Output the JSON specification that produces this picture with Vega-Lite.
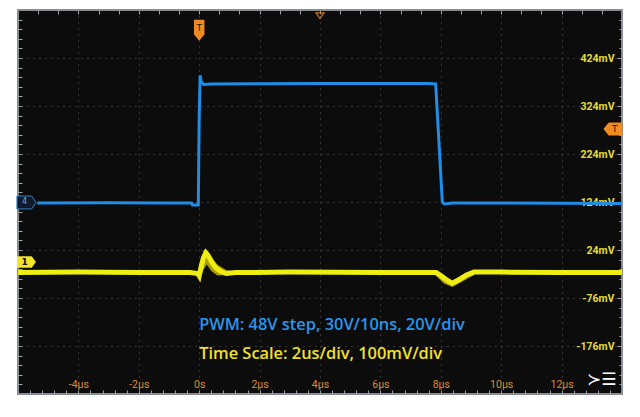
{
  "$schema": "https://vega.github.io/schema/vega-lite/v6.json",
  "width": 604,
  "height": 384,
  "autosize": {"type": "none"},
  "padding": {"left": 18, "top": 10, "right": 18, "bottom": 23},
  "background": "white",
  "config": {
    "view": {"fill": "#0c0c0c", "stroke": "#878d93", "strokeWidth": 2},
    "axis": {"title": null, "domain": false}
  },
  "resolve": {"axis": {"x": "independent", "y": "independent"}},
  "datasets": {
    "blue": [
      {"t": -5.36, "v": 122}, {"t": -3, "v": 122.5}, {"t": -1, "v": 122}, {"t": -0.25, "v": 122},
      {"t": -0.22, "v": 118}, {"t": -0.03, "v": 118}, {"t": 0.0, "v": 300}, {"t": 0.03, "v": 388},
      {"t": 0.07, "v": 374}, {"t": 0.15, "v": 369}, {"t": 0.4, "v": 370}, {"t": 2, "v": 370.5},
      {"t": 4, "v": 371}, {"t": 6, "v": 371}, {"t": 7.6, "v": 371}, {"t": 7.83, "v": 370},
      {"t": 8.05, "v": 124}, {"t": 8.12, "v": 120}, {"t": 8.4, "v": 122}, {"t": 10, "v": 122},
      {"t": 14, "v": 121}
    ],
    "yellow": [
      {"t": -6, "v": -23}, {"t": -4, "v": -22}, {"t": -2, "v": -23}, {"t": -0.3, "v": -23},
      {"t": -0.05, "v": -25}, {"t": 0.0, "v": -30}, {"t": 0.06, "v": -12}, {"t": 0.14, "v": 8},
      {"t": 0.22, "v": 18}, {"t": 0.3, "v": 12}, {"t": 0.42, "v": -2}, {"t": 0.56, "v": -14},
      {"t": 0.72, "v": -21}, {"t": 0.9, "v": -25}, {"t": 1.2, "v": -23}, {"t": 3, "v": -22},
      {"t": 6, "v": -23}, {"t": 7.85, "v": -23}, {"t": 8.0, "v": -29}, {"t": 8.2, "v": -39},
      {"t": 8.38, "v": -45}, {"t": 8.6, "v": -38}, {"t": 8.85, "v": -28}, {"t": 9.1, "v": -22},
      {"t": 10, "v": -22}, {"t": 12, "v": -23}, {"t": 14, "v": -23}
    ],
    "yband": [
      {"seg": "a", "t": -0.05, "lo": -27, "hi": -20}, {"seg": "a", "t": 0.05, "lo": -32, "hi": -4},
      {"seg": "a", "t": 0.15, "lo": -16, "hi": 24}, {"seg": "a", "t": 0.25, "lo": -6, "hi": 22},
      {"seg": "a", "t": 0.4, "lo": -20, "hi": 10}, {"seg": "a", "t": 0.6, "lo": -29, "hi": -6},
      {"seg": "a", "t": 0.9, "lo": -28, "hi": -18}, {"seg": "a", "t": 1.1, "lo": -26, "hi": -20},
      {"seg": "b", "t": 7.8, "lo": -27, "hi": -20}, {"seg": "b", "t": 8.1, "lo": -46, "hi": -28},
      {"seg": "b", "t": 8.38, "lo": -53, "hi": -40}, {"seg": "b", "t": 8.7, "lo": -42, "hi": -28},
      {"seg": "b", "t": 9.1, "lo": -28, "hi": -20}
    ]
  },
  "layer": [
    {
      "data": {"name": "blue"},
      "mark": {"type": "line", "color": "#1f8ee8", "strokeWidth": 3, "strokeJoin": "miter"},
      "encoding": {
        "x": {
          "field": "t", "type": "quantitative",
          "scale": {"domain": [-6, 14], "nice": false, "zero": false},
          "axis": {
            "orient": "bottom", "values": [-4, -2, 0, 2, 4, 6, 8, 10, 12],
            "labelExpr": "datum.value == 0 ? '0s' : datum.value + 'µs'",
            "ticks": false, "labelPadding": -15, "labelColor": "#dc8e2c",
            "labelFont": "Roboto", "labelFontSize": 10.5,
            "grid": true, "gridColor": "#5c5c5c", "gridDash": [1, 5], "gridWidth": 1
          }
        },
        "y": {
          "field": "v", "type": "quantitative",
          "scale": {"domain": [-276, 524], "nice": false, "zero": false},
          "axis": {
            "orient": "right", "values": [424, 324, 224, 124, 24, -76, -176],
            "labelExpr": "datum.value + 'mV'",
            "ticks": true, "tickSize": -5, "tickColor": "#a0a4a8", "tickWidth": 1,
            "labelAlign": "right", "labelPadding": -3, "labelColor": "#e4dc3c",
            "labelFont": "Roboto", "labelFontSize": 10.5, "labelFontWeight": "bold",
            "grid": true, "gridColor": "#5c5c5c", "gridDash": [1, 5], "gridWidth": 1
          }
        }
      }
    },
    {
      "data": {"name": "yband"},
      "mark": {"type": "area", "color": "#b9ab00", "opacity": 0.9},
      "encoding": {
        "x": {"field": "t", "type": "quantitative", "axis": {
          "orient": "top", "labels": false, "grid": false, "tickSize": -4, "tickColor": "#9aa0a6",
          "values": [-5.333,-4.667,-4,-3.333,-2.667,-2,-1.333,-0.667,0,0.667,1.333,2,2.667,3.333,4,4.667,5.333,6,6.667,7.333,8,8.667,9.333,10,10.667,11.333,12,12.667,13.333]}},
        "y": {"field": "lo", "type": "quantitative", "axis": {
          "orient": "left", "labels": false, "grid": false, "tickSize": -4, "tickColor": "#9aa0a6",
          "values": [-256,-236,-216,-196,-176,-156,-136,-116,-96,-76,-56,-36,-16,4,24,44,64,84,104,124,144,164,184,204,224,244,264,284,304,324,344,364,384,404,424,444,464,484,504]}},
        "y2": {"field": "hi"},
        "detail": {"field": "seg"}
      }
    },
    {
      "data": {"name": "yellow"},
      "mark": {"type": "line", "color": "#eeee12", "strokeWidth": 5},
      "encoding": {
        "x": {"field": "t", "type": "quantitative", "axis": {
          "orient": "bottom", "labels": false, "grid": false, "tickSize": -4, "tickColor": "#9aa0a6",
          "values": [-5.6,-5.2,-4.8,-4.4,-4,-3.6,-3.2,-2.8,-2.4,-2,-1.6,-1.2,-0.8,-0.4,0,0.4,0.8,1.2,1.6,2,2.4,2.8,3.2,3.6,4,4.4,4.8,5.2,5.6,6,6.4,6.8,7.2,7.6,8,8.4,8.8,9.2,9.6,10,10.4,10.8,11.2,11.6,12,12.4,12.8,13.2,13.6]}},
        "y": {"field": "v", "type": "quantitative", "axis": {
          "orient": "right", "labels": false, "grid": false, "tickSize": -3, "tickColor": "#9aa0a6",
          "values": [-256,-236,-216,-196,-156,-136,-116,-96,-56,-36,-16,4,44,64,84,104,144,164,184,204,244,264,284,304,344,364,384,404,444,464,484,504]}}
      }
    },
    {
      "data": {"values": [{"t": 0.0, "v": -133, "label": "PWM: 48V step, 30V/10ns, 20V/div"}]},
      "mark": {"type": "text", "align": "left", "baseline": "middle", "color": "#2a95ea", "font": "Open Sans", "fontWeight": 600, "fontSize": 16.4},
      "encoding": {
        "x": {"field": "t", "type": "quantitative", "axis": null},
        "y": {"field": "v", "type": "quantitative", "axis": null},
        "text": {"field": "label"}
      }
    },
    {
      "data": {"values": [{"t": 0.0, "v": -192, "label": "Time Scale: 2us/div, 100mV/div"}]},
      "mark": {"type": "text", "align": "left", "baseline": "middle", "color": "#f2e02a", "font": "Open Sans", "fontWeight": 600, "fontSize": 16.4},
      "encoding": {
        "x": {"field": "t", "type": "quantitative", "axis": null},
        "y": {"field": "v", "type": "quantitative", "axis": null},
        "text": {"field": "label"}
      }
    },
    {
      "data": {"values": [{"t": -5.72, "v": 123, "label": "4"}]},
      "mark": {"type": "point", "shape": "M-1,-0.68 L0.55,-0.68 L1,0 L0.55,0.68 L-1,0.68 Z", "size": 361, "filled": true, "fill": "#0f1b2c", "stroke": "#2f7fc4", "strokeWidth": 1, "opacity": 1},
      "encoding": {
        "x": {"field": "t", "type": "quantitative", "axis": null},
        "y": {"field": "v", "type": "quantitative", "axis": null}
      }
    },
    {
      "data": {"values": [{"t": -5.78, "v": 123, "label": "4"}]},
      "mark": {"type": "text", "color": "#7aa8d8", "fontSize": 8, "font": "DejaVu Sans", "baseline": "middle"},
      "encoding": {
        "x": {"field": "t", "type": "quantitative", "axis": null},
        "y": {"field": "v", "type": "quantitative", "axis": null},
        "text": {"field": "label"}
      }
    },
    {
      "data": {"values": [{"t": -5.72, "v": -1, "label": "1"}]},
      "mark": {"type": "point", "shape": "M-1,-0.6 L0.55,-0.6 L1,0 L0.55,0.6 L-1,0.6 Z", "size": 361, "filled": true, "fill": "#f3e52a", "opacity": 1},
      "encoding": {
        "x": {"field": "t", "type": "quantitative", "axis": null},
        "y": {"field": "v", "type": "quantitative", "axis": null}
      }
    },
    {
      "data": {"values": [{"t": -5.78, "v": -1, "label": "1"}]},
      "mark": {"type": "text", "color": "#111111", "fontSize": 9, "fontWeight": "bold", "font": "DejaVu Sans", "baseline": "middle"},
      "encoding": {
        "x": {"field": "t", "type": "quantitative", "axis": null},
        "y": {"field": "v", "type": "quantitative", "axis": null},
        "text": {"field": "label"}
      }
    },
    {
      "data": {"values": [{"t": 0.0, "v": 482, "label": "T"}]},
      "mark": {"type": "point", "shape": "M-0.5,-1 L0.5,-1 L0.5,0.4 L0,1 L-0.5,0.4 Z", "size": 441, "filled": true, "fill": "#f08a22", "opacity": 1},
      "encoding": {
        "x": {"field": "t", "type": "quantitative", "axis": null},
        "y": {"field": "v", "type": "quantitative", "axis": null}
      }
    },
    {
      "data": {"values": [{"t": 0.0, "v": 486, "label": "T"}]},
      "mark": {"type": "text", "color": "#1a1a1a", "fontSize": 9, "font": "DejaVu Sans", "baseline": "middle"},
      "encoding": {
        "x": {"field": "t", "type": "quantitative", "axis": null},
        "y": {"field": "v", "type": "quantitative", "axis": null},
        "text": {"field": "label"}
      }
    },
    {
      "data": {"values": [{"t": 13.7, "v": 276, "label": "T"}]},
      "mark": {"type": "point", "shape": "M1,-0.68 L-0.45,-0.68 L-1,0 L-0.45,0.68 L1,0.68 Z", "size": 361, "filled": true, "fill": "#f08a22", "opacity": 1},
      "encoding": {
        "x": {"field": "t", "type": "quantitative", "axis": null},
        "y": {"field": "v", "type": "quantitative", "axis": null}
      }
    },
    {
      "data": {"values": [{"t": 13.76, "v": 276, "label": "T"}]},
      "mark": {"type": "text", "color": "#1a1a1a", "fontSize": 9, "font": "DejaVu Sans", "baseline": "middle"},
      "encoding": {
        "x": {"field": "t", "type": "quantitative", "axis": null},
        "y": {"field": "v", "type": "quantitative", "axis": null},
        "text": {"field": "label"}
      }
    },
    {
      "data": {"values": [{"t": 4.0, "v": 513}]},
      "mark": {"type": "point", "shape": "M-1,-0.6 L1,-0.6 L0,0.8 Z", "size": 64, "filled": false, "stroke": "#c8782a", "strokeWidth": 1.2, "opacity": 1},
      "encoding": {
        "x": {"field": "t", "type": "quantitative", "axis": null},
        "y": {"field": "v", "type": "quantitative", "axis": null}
      }
    },
    {
      "data": {"values": [{"t": 13.33, "v": -246, "label": "≻☰"}]},
      "mark": {"type": "text", "color": "#ffffff", "fontSize": 17, "font": "DejaVu Sans", "baseline": "middle"},
      "encoding": {
        "x": {"field": "t", "type": "quantitative", "axis": null},
        "y": {"field": "v", "type": "quantitative", "axis": null},
        "text": {"field": "label"}
      }
    }
  ]
}
